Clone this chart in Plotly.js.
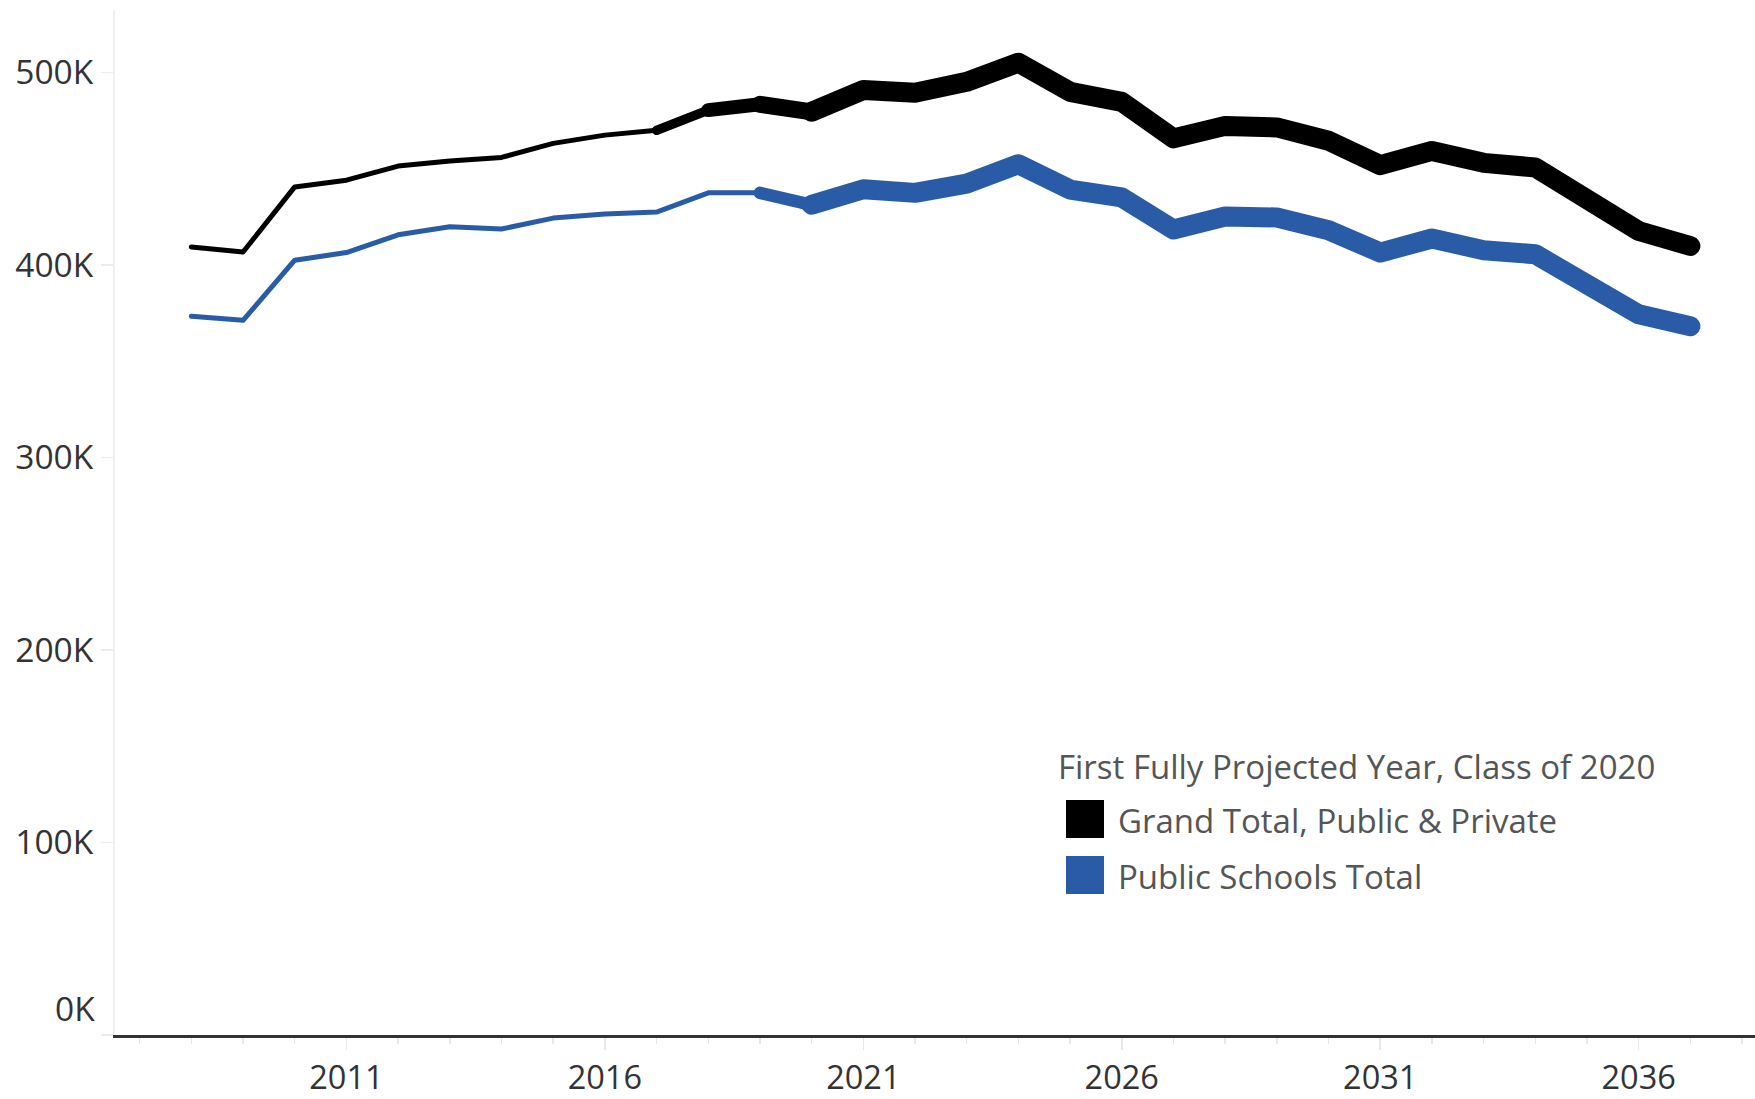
<!DOCTYPE html>
<html>
<head>
<meta charset="utf-8">
<script src="https://cdn.plot.ly/plotly-3.0.1.min.js"></script>
<style>
  html, body { margin: 0; padding: 0; background: #fff; }
  #chart { width: 1755px; height: 1099px; }
  .js-line { stroke-linejoin: round !important; stroke-linecap: round !important; }
</style>
</head>
<body>
<div id="chart"></div>
<script>
// ---- data ----
const years = [2008, 2009, 2010, 2011, 2012, 2013, 2014, 2015, 2016, 2017,
               2018, 2019, 2020, 2021, 2022, 2023, 2024, 2025, 2026, 2027,
               2028, 2029, 2030, 2031, 2032, 2033, 2034, 2035, 2036, 2037];
const grandTotal = [409400, 406800, 440600, 444100, 451400, 454100, 455900, 463200, 467500, 470000,
                    480500, 483500, 479600, 490900, 489500, 495200, 505100, 490000, 484800, 465800,
                    472300, 471500, 464600, 451900, 459300, 453100, 450700, 433300, 417700, 409900];
const publicTotal = [373400, 371300, 402500, 406500, 415700, 419900, 418700, 424400, 426500, 427500,
                     437500, 437500, 431300, 439400, 437500, 442300, 452400, 439200, 435100, 418500,
                     425200, 424700, 418100, 406500, 413800, 407700, 405600, 390000, 374400, 368200];
const seriesNames = ["Grand Total, Public & Private", "Public Schools Total"];
const legendTitle = "First Fully Projected Year, Class of 2020";
const xTickVals = [2011, 2016, 2021, 2026, 2031, 2036];
const xTickText = ["2011", "2016", "2021", "2026", "2031", "2036"];
const yTickVals = [0, 100000, 200000, 300000, 400000, 500000];
const yTickText = ["0K", "100K", "200K", "300K", "400K", "500K"];

// ---- styles (line thickness per point, like the size encoding) ----
const grandWidths  = [5,5,5,5,5,5,5,5,5,5, 14,14, 20,20,20,20,20,20,20,20, 20,20,20,20,20,20,20,20,20,20];
const publicWidths = [5,5,5,5,5,5,5,5,5,5, 5,5, 20,20,20,20,20,20,20,20, 20,20,20,20,20,20,20,20,20,20];
const colors = ["#000000", "#295ba7"];

function segmentTraces(x, y, w, color) {
  const traces = [];
  let start = 0;
  let curW = (w[0] + w[1]) / 2;
  for (let i = 1; i < x.length; i++) {
    const segW = (i < x.length - 1) ? (w[i] + w[i + 1]) / 2 : null;
    if (segW !== curW) {
      traces.push({
        type: "scatter", mode: "lines",
        x: x.slice(start, i + 1), y: y.slice(start, i + 1),
        line: { color: color, width: curW, shape: "linear" },
        showlegend: false, hoverinfo: "skip"
      });
      start = i;
      curW = segW;
    }
  }
  return traces;
}

const data = [].concat(
  segmentTraces(years, publicTotal, publicWidths, colors[1]),
  segmentTraces(years, grandTotal, grandWidths, colors[0])
);

// ---- layout helpers (pixel -> paper) ----
const W = 1755, H = 1099;
const M = { l: 115, r: 0, t: 10, b: 64 };
const PW = W - M.l - M.r, PH = H - M.t - M.b;
const px = v => (v - M.l) / PW;
const py = v => (H - M.b - v) / PH;

const fontFam = "'Open Sans', 'Noto Sans', sans-serif";
const tickSize = 33.5;
const xTickSize = 32.5;
const legSize = 33;

const shapes = [
  { type: "rect", xref: "paper", yref: "paper", x0: px(1066), x1: px(1104), y0: py(838), y1: py(800),
    fillcolor: colors[0], line: { width: 0 } },
  { type: "rect", xref: "paper", yref: "paper", x0: px(1066), x1: px(1104), y0: py(894), y1: py(856),
    fillcolor: colors[1], line: { width: 0 } }
];

const annotations = [
  { xref: "paper", yref: "paper", x: px(1056), y: py(766), xanchor: "left", yanchor: "middle",
    text: legendTitle, showarrow: false, font: { family: fontFam, size: legSize, color: "#555555" } },
  { xref: "paper", yref: "paper", x: px(1116), y: py(820), xanchor: "left", yanchor: "middle",
    text: seriesNames[0], showarrow: false, font: { family: fontFam, size: legSize, color: "#555555" } },
  { xref: "paper", yref: "paper", x: px(1116), y: py(876), xanchor: "left", yanchor: "middle",
    text: seriesNames[1], showarrow: false, font: { family: fontFam, size: legSize, color: "#555555" } },
  { xref: "paper", yref: "y", x: 0, y: yTickVals[0], xanchor: "right", yanchor: "middle",
    xshift: -18, yshift: 27, text: yTickText[0], showarrow: false,
    font: { family: fontFam, size: tickSize, color: "#333333" } }
];

const layout = {
  width: W, height: H,
  margin: M,
  paper_bgcolor: "#ffffff", plot_bgcolor: "#ffffff",
  showlegend: false,
  hovermode: false,
  font: { family: fontFam, size: tickSize, color: "#333333" },
  xaxis: {
    range: [2006.523, 2038.25],
    tickmode: "array", tickvals: xTickVals, ticktext: xTickText,
    ticks: "outside", ticklen: 12, tickcolor: "#e8e8e8", tickwidth: 1.5,
    minor: { dtick: 1, tick0: 2008, ticks: "outside", ticklen: 6, tickcolor: "#e8e8e8", tickwidth: 1.5, showgrid: false },
    showgrid: false, zeroline: false,
    showline: true, linecolor: "#333333", linewidth: 3,
    tickfont: { family: fontFam, size: xTickSize, color: "#333333" },
    ticklabelstandoff: 0
  },
  yaxis: {
    range: [0, 532500],
    tickmode: "array", tickvals: yTickVals, ticktext: ["", "100K", "200K", "300K", "400K", "500K"],
    ticks: "outside", ticklen: 12, tickcolor: "#ececec", tickwidth: 1.5,
    showgrid: false, zeroline: false,
    showline: true, linecolor: "#f0f0f0", linewidth: 2,
    tickfont: { family: fontFam, size: tickSize, color: "#333333" },
    ticklabelstandoff: 1
  },
  shapes: shapes,
  annotations: annotations
};

Plotly.newPlot("chart", data, layout, { staticPlot: true, displayModeBar: false });
</script>
</body>
</html>
